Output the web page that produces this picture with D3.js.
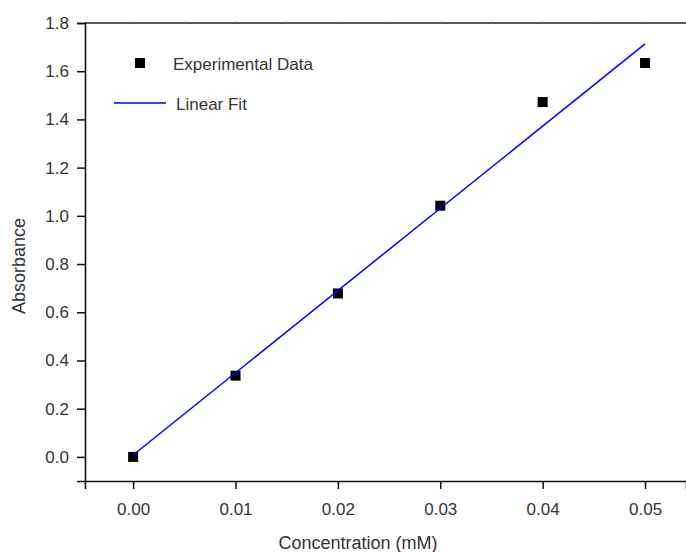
<!DOCTYPE html>
<meta charset="utf-8">
<title>Absorbance vs Concentration</title>
<style>
  body { margin: 0; background: #fff; }
  text { font-family: "Liberation Sans", Arial, sans-serif; fill: #333; }
</style>
<body>
<script src="https://cdnjs.cloudflare.com/ajax/libs/d3/7.8.5/d3.min.js"></script>
<script>

var concentration = [0.00, 0.01, 0.02, 0.03, 0.04, 0.05];
var absorbance = [0.000, 0.337, 0.678, 1.042, 1.472, 1.634];
var xTicks = [0.00, 0.01, 0.02, 0.03, 0.04, 0.05];
var yTicks = [0.0, 0.2, 0.4, 0.6, 0.8, 1.0, 1.2, 1.4, 1.6, 1.8];
var legendLabels = ['Experimental Data', 'Linear Fit'];

var width = 686, height = 552;
var svg = d3.select('body').append('svg').attr('width', width).attr('height', height);

var x = d3.scaleLinear().domain([-0.0047, 0.054]).range([85, 686]);
var y = d3.scaleLinear().domain([-0.1, 1.8]).range([481, 23]);

// least squares fit of the points
var mx = d3.mean(concentration), my = d3.mean(absorbance);
var sxy = d3.sum(concentration, function(c, i) { return (c - mx) * (absorbance[i] - my); });
var sxx = d3.sum(concentration, function(c) { return (c - mx) * (c - mx); });
var slope = sxy / sxx, intercept = my - slope * mx;

// top border with tiny ticks
svg.append('line').attr('x1', 85).attr('x2', width).attr('y1', 23).attr('y2', 23)
  .attr('stroke', '#222').attr('stroke-width', 1.6);
svg.append('g').attr('transform', 'translate(0,23)')
  .call(d3.axisTop(x).tickValues(d3.range(0, 0.0551, 0.005)).tickSize(1.5).tickFormat(''))
  .call(function(g) { g.select('.domain').remove(); g.selectAll('line').attr('stroke', '#777'); });

// x axis
var xAxis = svg.append('g').attr('transform', 'translate(0,481)');
xAxis.call(d3.axisBottom(x).tickValues(d3.range(-0.005, 0.0551, 0.005)).tickSize(5).tickFormat(''));
xAxis.call(d3.axisBottom(x).tickValues(xTicks).tickSize(8).tickPadding(14).tickFormat(d3.format('.2f')));
xAxis.selectAll('.domain').attr('stroke', '#111').attr('stroke-width', 1.6);
xAxis.selectAll('line').attr('stroke', '#111').attr('stroke-width', 1.5);
xAxis.selectAll('text').style('font-size', '17px').attr('fill', '#333');

// y axis
var yAxis = svg.append('g').attr('transform', 'translate(85,0)');
yAxis.call(d3.axisLeft(y).tickValues(d3.range(-0.1, 1.81, 0.1)).tickSize(5).tickFormat(''));
yAxis.call(d3.axisLeft(y).tickValues(yTicks).tickSize(8).tickPadding(8).tickFormat(d3.format('.1f')));
yAxis.selectAll('.domain').attr('stroke', '#111').attr('stroke-width', 1.6);
yAxis.selectAll('line').attr('stroke', '#111').attr('stroke-width', 1.5);
yAxis.selectAll('text').style('font-size', '17px').attr('fill', '#333');

// axis titles
svg.append('text').attr('x', 358).attr('y', 549).attr('text-anchor', 'middle')
  .style('font-size', '18px').text('Concentration (mM)');
svg.append('text').attr('transform', 'translate(25,266) rotate(-90)').attr('text-anchor', 'middle')
  .style('font-size', '18px').text('Absorbance');

// data points
svg.selectAll('rect.pt').data(concentration).enter().append('rect')
  .attr('class', 'pt')
  .attr('x', function(d) { return x(d) - 5; })
  .attr('y', function(d, i) { return y(absorbance[i]) - 5; })
  .attr('width', 10).attr('height', 10).attr('fill', '#000');

// fit line
var x0 = d3.min(concentration), x1 = d3.max(concentration);
svg.append('line')
  .attr('x1', x(x0)).attr('y1', y(intercept + slope * x0))
  .attr('x2', x(x1)).attr('y2', y(intercept + slope * x1))
  .attr('stroke', '#0000ff').attr('stroke-width', 1.5);

// legend
svg.append('rect').attr('x', 135).attr('y', 58).attr('width', 10).attr('height', 10).attr('fill', '#000');
svg.append('text').attr('x', 173).attr('y', 70).style('font-size', '17px').text(legendLabels[0]);
svg.append('line').attr('x1', 114).attr('x2', 166).attr('y1', 103).attr('y2', 103)
  .attr('stroke', '#0000ff').attr('stroke-width', 1.5);
svg.append('text').attr('x', 176).attr('y', 110).style('font-size', '17px').text(legendLabels[1]);

</script>
</body>
